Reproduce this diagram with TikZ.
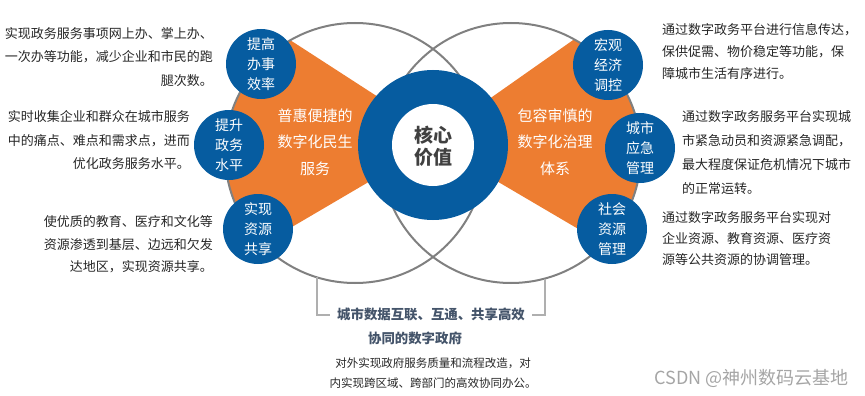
\documentclass[tikz,border=0pt]{standalone}
\usepackage{fontspec}
\newfontfamily\cjk{Noto Sans CJK SC}
\definecolor{cblue}{RGB}{6,92,160}
\definecolor{corange}{RGB}{237,125,49}
\definecolor{cgrey}{RGB}{128,128,128}
\definecolor{cline}{RGB}{175,175,175}
\definecolor{ctext}{RGB}{38,38,38}
\definecolor{cslate}{RGB}{68,84,106}
\definecolor{ccore}{RGB}{64,64,64}
\definecolor{cwm}{RGB}{165,165,165}
\begin{document}
\begin{tikzpicture}[x=1pt,y=-1pt,
  bubble/.style={circle, fill=cblue, minimum size=70pt, inner sep=0pt, text=white, align=center,
    font=\cjk\fontsize{14pt}{20pt}\selectfont},
  sidel/.style={anchor=east, align=right, text=ctext, inner sep=0pt},
  sider/.style={anchor=west, align=left, text=ctext, inner sep=0pt},
  fan/.style={align=center, text=white, inner sep=0pt, font=\cjk\fontsize{15pt}{26.5pt}\selectfont},
  bracket/.style={draw=cline, line width=1.4pt},
  bigring/.style={draw=cgrey, line width=2pt}
]
\useasboundingbox (0,0) rectangle (865,396);

% orange fans
\begin{scope}
  \clip (355,153) circle[radius=130pt];
  \fill[corange] (433,132.5) -- (205,-15) -- (205,278) -- (433,144.2) -- cycle;
\end{scope}
\begin{scope}
  \clip (511,153) circle[radius=130pt];
  \fill[corange] (433,138.5) -- (660,-21) -- (660,277) -- (433,143.6) -- cycle;
\end{scope}

% big grey circles
\draw[bigring] (355,153) circle[radius=130pt];
\draw[bigring] (511,153) circle[radius=130pt];

% bottom bracket
\coordinate (bl1) at (317,277.3);
\coordinate (bl2) at (317,315);
\coordinate (bl3) at (330,315);
\coordinate (br1) at (545,278.5);
\coordinate (br2) at (545,315);
\coordinate (br3) at (532,315);
\draw[bracket] (bl1) -- (bl2) -- (bl3);
\draw[bracket] (br1) -- (br2) -- (br3);

% core
\fill[cblue] (433,145) circle[radius=75pt];
\fill[white] (433,145) circle[radius=41pt];
\node[align=center, text=ccore, inner sep=0pt, font=\cjk\fontsize{19pt}{22pt}\selectfont\bfseries] (core) at (433,146) {核心\\价值};

% fan texts
\node[fan] (lfan) at (315,142) {普惠便捷的\\数字化民生\\服务};
\node[fan] (rfan) at (555,142) {包容审慎的\\数字化治理\\体系};

% bubbles
\node[bubble] (b1) at (261,64) {提高\\办事\\效率};
\node[bubble] (b2) at (229,145) {提升\\政务\\水平};
\node[bubble] (b3) at (258,229) {实现\\资源\\共享};
\node[bubble] (b4) at (608,65) {宏观\\经济\\调控};
\node[bubble] (b5) at (640,148) {城市\\应急\\管理};
\node[bubble] (b6) at (612,229) {社会\\资源\\管理};

% left descriptions
\node[sidel, font=\cjk\fontsize{13pt}{23.8pt}\selectfont] (t1) at (213,57)
  {实现政务服务事项网上办、掌上办、\\一次办等功能，减少企业和市民的跑\\腿次数。};
\node[sidel, font=\cjk\fontsize{13pt}{23.5pt}\selectfont] (t2) at (190,140.5)
  {实时收集企业和群众在城市服务\\中的痛点、难点和需求点，进而\\优化政务服务水平。};
\node[sidel, font=\cjk\fontsize{13pt}{22.5pt}\selectfont] (t3) at (213,244.5)
  {使优质的教育、医疗和文化等\\资源渗透到基层、边远和欠发\\达地区，实现资源共享。};

% right descriptions
\node[sider, font=\cjk\fontsize{13pt}{21.7pt}\selectfont] (t4) at (662,51.7)
  {通过数字政务平台进行信息传达，\\保供促需、物价稳定等功能，保\\障城市生活有序进行。};
\node[sider, font=\cjk\fontsize{13pt}{23.7pt}\selectfont] (t5) at (682,152.5)
  {通过数字政务服务平台实现城\\市紧急动员和资源紧急调配，\\最大程度保证危机情况下城市\\的正常运转。};
\node[sider, font=\cjk\fontsize{13pt}{21pt}\selectfont] (t6) at (662,239)
  {通过数字政务服务平台实现对\\企业资源、教育资源、医疗资\\源等公共资源的协调管理。};

% bottom texts
\node[text=cslate, inner sep=0pt, font=\cjk\fontsize{13.4pt}{13.4pt}\selectfont\bfseries] (g1) at (431,314) {城市数据互联、互通、共享高效};
\node[text=cslate, inner sep=0pt, font=\cjk\fontsize{13.4pt}{13.4pt}\selectfont\bfseries] (g2) at (415,338) {协同的数字政府};
\node[align=center, text=ctext, inner sep=0pt, font=\cjk\fontsize{11.5pt}{20pt}\selectfont] (g3) at (433,373)
  {对外实现政府服务质量和流程改造，对\\内实现跨区域、跨部门的高效协同办公。};

% watermark
\node[anchor=east, text=cwm, inner sep=0pt, font=\cjk\fontsize{18pt}{18pt}\selectfont] (wm) at (849,378) {CSDN @神州数码云基地};
\end{tikzpicture}
\end{document}
